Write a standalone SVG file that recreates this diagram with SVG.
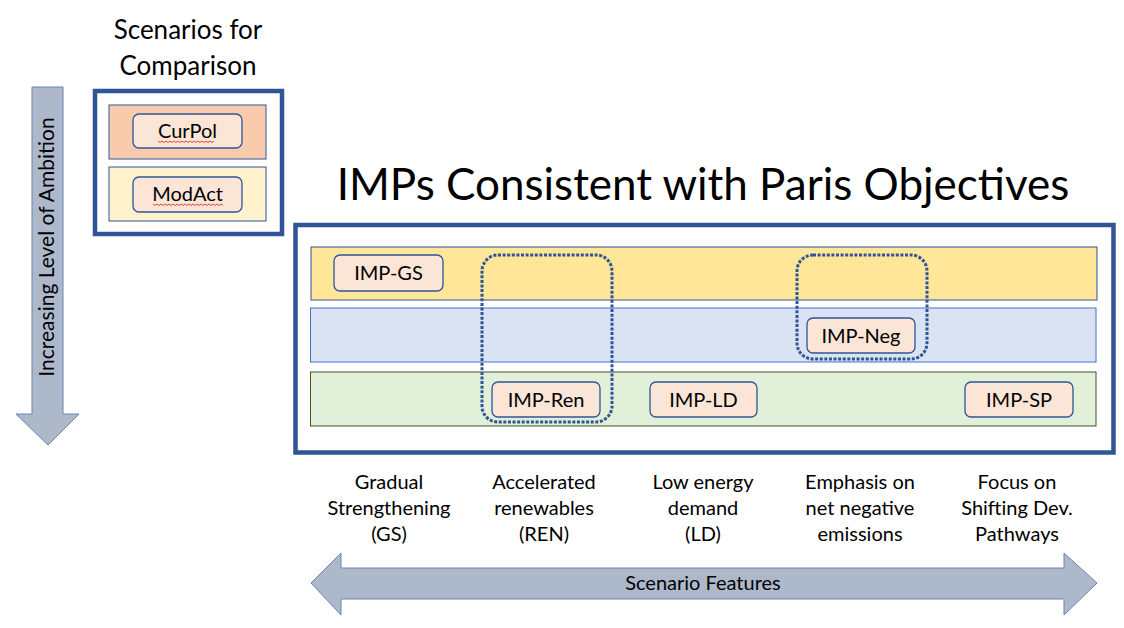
<svg xmlns="http://www.w3.org/2000/svg" width="1124" height="628" viewBox="0 0 1124 628">
<style>
text { font-family: Lato, "Liberation Sans", sans-serif; fill: #000; }
.title { font-size: 26px; text-anchor: middle; }
.big { font-size: 44px; text-anchor: middle; }
.lbl { font-size: 20px; text-anchor: middle; }
.feat { font-size: 20px; text-anchor: middle; }
.vert { font-size: 21px; text-anchor: middle; }
.node { fill: #FBE5D6; stroke: #2F5597; stroke-width: 1.3; }
.frame { fill: #FFFFFF; stroke: #2F5597; stroke-width: 4.5; }
.arrow { fill: #ADB9CA; stroke: #6C84B4; stroke-width: 1; }
.dots { fill: none; stroke: #2F5597; stroke-width: 3; stroke-dasharray: 3 1.6; }
.squig { fill: none; stroke: #E03030; stroke-width: 0.9; }
</style>

<g id="ambition-arrow">
  <polygon class="arrow" points="32,87 63,87 63,414 79,414 48,445 16,414 32,414"/>
  <text class="vert" transform="translate(54,247) rotate(-90)">Increasing Level of Ambition</text>
</g>

<g id="comparison-title">
  <text class="title" x="188" y="39">Scenarios for</text>
  <text class="title" x="188" y="75">Comparison</text>
</g>

<g id="comparison-box">
  <rect class="frame" x="95" y="91" width="187" height="143"/>
  <rect x="109" y="105" width="157" height="54" fill="#F8CBAD" stroke="#2F5597" stroke-width="1"/>
  <rect x="109" y="167" width="157" height="54" fill="#FFF2CC" stroke="#2F5597" stroke-width="1"/>
</g>

<g id="node-curpol">
  <rect class="node" x="133" y="114" width="109" height="34" rx="6"/>
  <text class="lbl" x="187.5" y="138">CurPol</text>
  <path class="squig" d="M158,141 l2,1.5 l2,-1.5 l2,1.5 l2,-1.5 l2,1.5 l2,-1.5 l2,1.5 l2,-1.5 l2,1.5 l2,-1.5 l2,1.5 l2,-1.5 l2,1.5 l2,-1.5 l2,1.5 l2,-1.5 l2,1.5 l2,-1.5 l2,1.5 l2,-1.5 l2,1.5 l2,-1.5 l2,1.5 l2,-1.5 l2,1.5 l2,-1.5 l2,1.5 l2,-1.5"/>
</g>

<g id="node-modact">
  <rect class="node" x="133" y="177" width="109" height="35" rx="6"/>
  <text class="lbl" x="187.5" y="201">ModAct</text>
  <path class="squig" d="M153,204 l2,1.5 l2,-1.5 l2,1.5 l2,-1.5 l2,1.5 l2,-1.5 l2,1.5 l2,-1.5 l2,1.5 l2,-1.5 l2,1.5 l2,-1.5 l2,1.5 l2,-1.5 l2,1.5 l2,-1.5 l2,1.5 l2,-1.5 l2,1.5 l2,-1.5 l2,1.5 l2,-1.5 l2,1.5 l2,-1.5 l2,1.5 l2,-1.5 l2,1.5 l2,-1.5 l2,1.5 l2,-1.5 l2,1.5 l2,-1.5 l2,1.5 l2,-1.5 l2,1.5"/>
</g>

<g id="imp-title">
  <text class="big" x="703" y="200">IMPs Consistent with Paris Objectives</text>
</g>

<g id="imp-box">
  <rect class="frame" x="295.5" y="225" width="818" height="227.5"/>
  <rect x="311" y="247" width="786" height="53" fill="#FFE699" stroke="#2F5597" stroke-width="1"/>
  <rect x="310.5" y="308" width="785.5" height="54" fill="#DAE3F3" stroke="#4472C4" stroke-width="1"/>
  <rect x="310.5" y="372" width="785.5" height="54" fill="#E2F0D9" stroke="#385723" stroke-width="1"/>
</g>

<g id="group-ren">
  <rect class="dots" x="482" y="255" width="130" height="167" rx="16"/>
</g>
<g id="group-neg">
  <rect class="dots" x="797" y="255" width="130" height="104" rx="16"/>
</g>

<g id="node-imp-gs">
  <rect class="node" x="334" y="255" width="109" height="36" rx="6"/>
  <text class="lbl" x="388.5" y="280">IMP-GS</text>
</g>
<g id="node-imp-neg">
  <rect class="node" x="807" y="318" width="108" height="35" rx="6"/>
  <text class="lbl" x="861" y="343">IMP-Neg</text>
</g>
<g id="node-imp-ren">
  <rect class="node" x="492" y="382" width="108" height="35" rx="6"/>
  <text class="lbl" x="546" y="407">IMP-Ren</text>
</g>
<g id="node-imp-ld">
  <rect class="node" x="650" y="382" width="107" height="35" rx="6"/>
  <text class="lbl" x="703.5" y="407">IMP-LD</text>
</g>
<g id="node-imp-sp">
  <rect class="node" x="965" y="382" width="108" height="35" rx="6"/>
  <text class="lbl" x="1019" y="407">IMP-SP</text>
</g>

<g id="features">
  <text class="feat" x="389" y="489">Gradual</text>
  <text class="feat" x="389" y="515">Strengthening</text>
  <text class="feat" x="389" y="541">(GS)</text>
  <text class="feat" x="544" y="489">Accelerated</text>
  <text class="feat" x="544" y="515">renewables</text>
  <text class="feat" x="544" y="541">(REN)</text>
  <text class="feat" x="703" y="489">Low energy</text>
  <text class="feat" x="703" y="515">demand</text>
  <text class="feat" x="703" y="541">(LD)</text>
  <text class="feat" x="860" y="489">Emphasis on</text>
  <text class="feat" x="860" y="515">net negative</text>
  <text class="feat" x="860" y="541">emissions</text>
  <text class="feat" x="1017" y="489">Focus on</text>
  <text class="feat" x="1017" y="515">Shifting Dev.</text>
  <text class="feat" x="1017" y="541">Pathways</text>
</g>

<g id="features-arrow">
  <polygon class="arrow" points="311,583 341,553 341,568 1064,568 1064,553 1097,583 1064,615 1064,599 341,599 341,615"/>
  <text class="feat" x="703" y="590">Scenario Features</text>
</g>
</svg>
